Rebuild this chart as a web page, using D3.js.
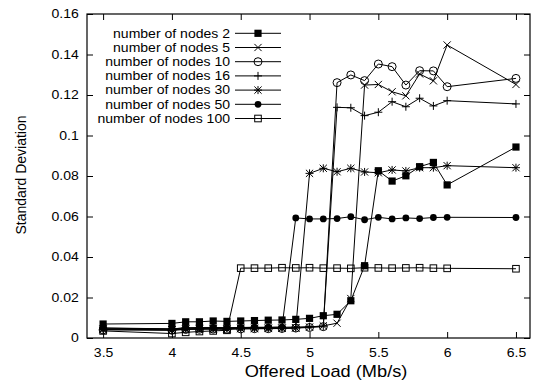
<!DOCTYPE html>
<html>
<head>
<meta charset="utf-8">
<script src="https://cdn.jsdelivr.net/npm/d3@7"></script>
<style>
  html, body { margin: 0; padding: 0; background: #fff; }
  svg { display: block; }
  text { font-family: "Liberation Sans", Arial, Helvetica, sans-serif; fill: #000; }
</style>
</head>
<body>
<svg id="chart" width="539" height="382"></svg>
<script>
// Offered load values (Mb/s)
const loads = [3.5, 4.0, 4.1, 4.2, 4.3, 4.4, 4.5, 4.6, 4.7, 4.8, 4.9, 5.0,
               5.1, 5.2, 5.3, 5.4, 5.5, 5.6, 5.7, 5.8, 5.9, 6.0, 6.5];

// Standard deviation per node count
const nodes2 = [0.0069, 0.0072, 0.0080, 0.0080, 0.0084, 0.0082, 0.0084, 0.0086, 0.0088, 0.0089, 0.0092, 0.0097,
                0.0110, 0.0117, 0.0184, 0.0357, 0.0826, 0.0775, 0.0801, 0.0846, 0.0867, 0.0756, 0.0943];
const nodes5 = [0.0045, 0.0040, 0.0043, 0.0044, 0.0045, 0.0044, 0.0046, 0.0046, 0.0047, 0.0048, 0.0050, 0.0054,
                0.0060, 0.0073, 0.0195, 0.1249, 0.1252, 0.1216, 0.1196, 0.1304, 0.1270, 0.1447, 0.1252];
const nodes10 = [0.0040, 0.0038, 0.0042, 0.0043, 0.0044, 0.0043, 0.0045, 0.0046, 0.0046, 0.0047, 0.0049, 0.0052,
                 0.0056, 0.1261, 0.1299, 0.1271, 0.1353, 0.1340, 0.1249, 0.1320, 0.1319, 0.1241, 0.1282];
const nodes16 = [0.0050, 0.0045, 0.0050, 0.0050, 0.0051, 0.0050, 0.0051, 0.0052, 0.0052, 0.0053, 0.0054, 0.0056,
                 0.0058, 0.1139, 0.1137, 0.1098, 0.1115, 0.1167, 0.1142, 0.1184, 0.1146, 0.1172, 0.1156];
const nodes30 = [0.0042, 0.0040, 0.0046, 0.0047, 0.0047, 0.0046, 0.0048, 0.0048, 0.0049, 0.0049, 0.0050, 0.0813,
                 0.0838, 0.0821, 0.0838, 0.0820, 0.0816, 0.0830, 0.0825, 0.0841, 0.0841, 0.0851, 0.0841];
const nodes50 = [0.0048, 0.0045, 0.0050, 0.0052, 0.0052, 0.0051, 0.0052, 0.0053, 0.0053, 0.0054, 0.0593, 0.0588,
                 0.0588, 0.0590, 0.0599, 0.0584, 0.0596, 0.0588, 0.0593, 0.0590, 0.0595, 0.0596, 0.0595];
const nodes100 = [0.0035, 0.0022, 0.0028, 0.0032, 0.0035, 0.0038, 0.0345, 0.0345, 0.0345, 0.0347, 0.0346, 0.0347,
                  0.0345, 0.0345, 0.0344, 0.0347, 0.0346, 0.0345, 0.0346, 0.0347, 0.0345, 0.0344, 0.0342];

const seriesNames = ["number of nodes 2", "number of nodes 5", "number of nodes 10", "number of nodes 16",
                     "number of nodes 30", "number of nodes 50", "number of nodes 100"];
const seriesValues = [nodes2, nodes5, nodes10, nodes16, nodes30, nodes50, nodes100];
const seriesMarkers = ["filledSquare", "cross", "openCircle", "plus", "star", "filledCircle", "openSquare"];

const xTicks = [3.5, 4, 4.5, 5, 5.5, 6, 6.5];
const xTickLabels = ["3.5", "4", "4.5", "5", "5.5", "6", "6.5"];
const yTicks = [0, 0.02, 0.04, 0.06, 0.08, 0.1, 0.12, 0.14, 0.16];
const yTickLabels = ["0", "0.02", "0.04", "0.06", "0.08", "0.1", "0.12", "0.14", "0.16"];

const svg = d3.select("#chart");
const plot = { left: 87, right: 530, top: 14, bottom: 338 };

const x = d3.scaleLinear().domain([3.383, 6.602]).range([plot.left, plot.right]);
const y = d3.scaleLinear().domain([0, 0.16]).range([plot.bottom, plot.top]);

// Text uses a slightly widened face
const fontSize = 12;
const widen = 1.17;

// Axes: ticks point inward and are mirrored on the opposite side
const axisBottom = d3.axisBottom(x).tickValues(xTicks)
  .tickFormat((d, i) => xTickLabels[i]).tickSizeInner(-6).tickSizeOuter(0).tickPadding(10);
const axisTop = d3.axisTop(x).tickValues(xTicks).tickFormat("").tickSizeInner(-6).tickSizeOuter(0);
const axisLeft = d3.axisLeft(y).tickValues(yTicks)
  .tickFormat((d, i) => yTickLabels[i]).tickSizeInner(-6).tickSizeOuter(0).tickPadding(7);
const axisRight = d3.axisRight(y).tickValues(yTicks).tickFormat("").tickSizeInner(-6).tickSizeOuter(0);

function styleAxis(g) {
  g.select(".domain").remove();
  g.selectAll("line").attr("stroke", "#000").attr("stroke-width", 1);
  g.selectAll("text").attr("font-size", fontSize)
    .attr("font-family", '"Liberation Sans", Arial, sans-serif').attr("fill", "#000")
    .attr("transform", `scale(${widen},1)`);
}

svg.append("g").attr("transform", `translate(0,${plot.bottom})`).call(axisBottom).call(styleAxis);
svg.append("g").attr("transform", `translate(0,${plot.top})`).call(axisTop).call(styleAxis);
svg.append("g").attr("transform", `translate(${plot.left},0)`).call(axisLeft).call(styleAxis);
svg.append("g").attr("transform", `translate(${plot.right},0)`).call(axisRight).call(styleAxis);

// Frame
svg.append("rect")
  .attr("x", plot.left).attr("y", plot.top)
  .attr("width", plot.right - plot.left).attr("height", plot.bottom - plot.top)
  .attr("fill", "none").attr("stroke", "#000").attr("stroke-width", 1.2);

// Axis titles
svg.append("text")
  .attr("transform", "translate(326,377) scale(1.14,1)")
  .attr("text-anchor", "middle").attr("font-size", 16)
  .text("Offered Load (Mb/s)");

svg.append("text")
  .attr("transform", "translate(26,175) rotate(-90)")
  .attr("text-anchor", "middle").attr("font-size", 14)
  .text("Standard Deviation");

// Marker drawing
function drawMarker(g, type, cx, cy) {
  const s = 3.6;
  switch (type) {
    case "filledSquare":
      g.append("rect").attr("x", cx - s).attr("y", cy - s).attr("width", 2 * s).attr("height", 2 * s)
        .attr("fill", "#000");
      break;
    case "openSquare":
      g.append("rect").attr("x", cx - 3.3).attr("y", cy - 3.3).attr("width", 6.6).attr("height", 6.6)
        .attr("fill", "none").attr("stroke", "#000");
      break;
    case "cross":
      g.append("path").attr("d", `M${cx - s},${cy - s}L${cx + s},${cy + s}M${cx - s},${cy + s}L${cx + s},${cy - s}`)
        .attr("stroke", "#000").attr("fill", "none");
      break;
    case "plus":
      g.append("path").attr("d", `M${cx - 4},${cy}L${cx + 4},${cy}M${cx},${cy - 4}L${cx},${cy + 4}`)
        .attr("stroke", "#000").attr("fill", "none");
      break;
    case "star":
      g.append("path").attr("d",
        `M${cx - s},${cy - s}L${cx + s},${cy + s}M${cx - s},${cy + s}L${cx + s},${cy - s}` +
        `M${cx - 4},${cy}L${cx + 4},${cy}M${cx},${cy - 4}L${cx},${cy + 4}`)
        .attr("stroke", "#000").attr("fill", "none");
      break;
    case "openCircle":
      g.append("circle").attr("cx", cx).attr("cy", cy).attr("r", 4)
        .attr("fill", "none").attr("stroke", "#000");
      break;
    case "filledCircle":
      g.append("circle").attr("cx", cx).attr("cy", cy).attr("r", 3.4).attr("fill", "#000");
      break;
  }
}

// Series lines and markers
const line = d3.line().x(d => x(d[0])).y(d => y(d[1]));
const seriesLayer = svg.append("g");
seriesValues.forEach((vals, si) => {
  const pts = loads.map((l, i) => [l, vals[i]]);
  const g = seriesLayer.append("g");
  g.append("path").attr("d", line(pts)).attr("fill", "none").attr("stroke", "#000").attr("stroke-width", 1);
  pts.forEach(p => drawMarker(g, seriesMarkers[si], x(p[0]), y(p[1])));
});

// Legend
const legend = svg.append("g");
const legendTop = 33.3, legendStep = 14.2;
seriesNames.forEach((name, i) => {
  const ly = legendTop + i * legendStep;
  legend.append("text")
    .attr("transform", `translate(230,${ly}) scale(${widen},1)`)
    .attr("dy", "0.36em")
    .attr("text-anchor", "end").attr("font-size", fontSize).text(name);
  legend.append("line").attr("x1", 235).attr("x2", 281).attr("y1", ly).attr("y2", ly)
    .attr("stroke", "#000").attr("stroke-width", 1);
  drawMarker(legend, seriesMarkers[i], 258, ly);
});
</script>
</body>
</html>
